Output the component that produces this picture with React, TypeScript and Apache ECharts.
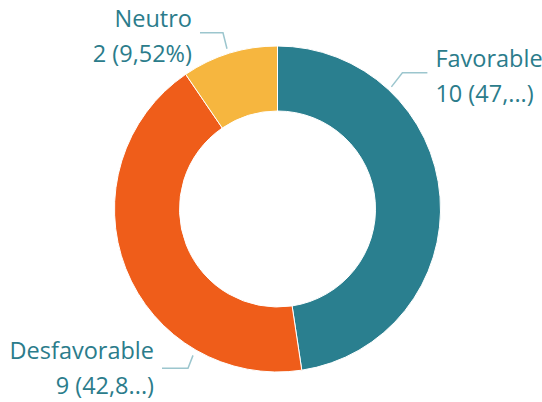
import React, { useEffect, useRef } from "react";
import * as echarts from "echarts";

// ---- data ----
const categories = ["Favorable", "Desfavorable", "Neutro"];
const values = [10, 9, 2];
const sliceColors = ["#2A7F8F", "#EF5D1A", "#F6B63F"];

// ---- layout / style ----
const CX = 277.5;
const CY = 209;
const R_IN = 98;
const R_OUT = 163;
const TEXT_COLOR = "#2B7C8B";
const GUIDE_COLOR = "#9CC6CE";
const MAX_LABEL_CHARS = 9;
const FONT_SIZE = 23.5;

// anchor angle (deg, clockwise from top), gap off the ring, elbow offset, horizontal run, side, text shift
const labelGuides = [
  { angle: 43, gap: 4, elbowDx: 11, elbowDy: -14, run: 25, side: 1, textDy: 0 },
  { angle: 210, gap: 6, elbowDx: -5, elbowDy: 13, run: -26, side: -1, textDy: -4 },
  { angle: -17.5, gap: 5, elbowDx: -4, elbowDy: -16, run: -23, side: -1, textDy: 0 },
];

const total = values.reduce((a, b) => a + b, 0);

function valueLabel(v: number): string {
  const pct = ((v / total) * 100).toFixed(2).replace(".", ",");
  const full = `${v} (${pct}%)`;
  if (full.length > MAX_LABEL_CHARS) return full.slice(0, 7) + "...)";
  return full;
}

export default function App() {
  const ref = useRef<HTMLDivElement>(null);

  useEffect(() => {
    document.body.style.margin = "0";
    if (!ref.current) return;
    const chart = echarts.init(ref.current, undefined, { renderer: "svg" });
    const textBase = {
      fontFamily: "Open Sans",
      fontSize: FONT_SIZE,
      color: TEXT_COLOR,
    };
    chart.setOption({
      animation: false,
      backgroundColor: "#ffffff",
      series: [
        {
          type: "pie",
          center: [CX, CY],
          radius: [R_IN, R_OUT],
          startAngle: 90,
          clockwise: true,
          avoidLabelOverlap: false,
          itemStyle: { borderColor: "#ffffff", borderWidth: 1 },
          label: {
            show: true,
            position: "outside",
            ...textBase,
            formatter: (p: any) => `{a|${p.name}}\n{b|${valueLabel(p.value)}}`,
            rich: {
              a: { ...textBase, lineHeight: 44 },
              b: { ...textBase, lineHeight: 26 },
            },
          },
          labelLine: {
            show: true,
            lineStyle: { color: GUIDE_COLOR, width: 1.5 },
          },
          labelLayout: (params: any) => {
            const g = labelGuides[params.dataIndex];
            const rad = (g.angle * Math.PI) / 180;
            const r = R_OUT + g.gap;
            const ax = CX + r * Math.sin(rad);
            const ay = CY - r * Math.cos(rad);
            const ex = ax + g.elbowDx;
            const ey = ay + g.elbowDy;
            const endX = ex + g.run;
            return {
              x: endX + g.side * 8,
              y: ey - 1.5 + g.textDy,
              align: g.side > 0 ? "left" : "right",
              verticalAlign: "middle",
              labelLinePoints: [
                [ax, ay],
                [ex, ey],
                [endX, ey],
              ],
            };
          },
          data: categories.map((name, i) => ({
            name,
            value: values[i],
            itemStyle: { color: sliceColors[i] },
          })),
        },
      ],
    });
    return () => chart.dispose();
  }, []);

  return <div ref={ref} style={{ width: 542, height: 402 }} />;
}
